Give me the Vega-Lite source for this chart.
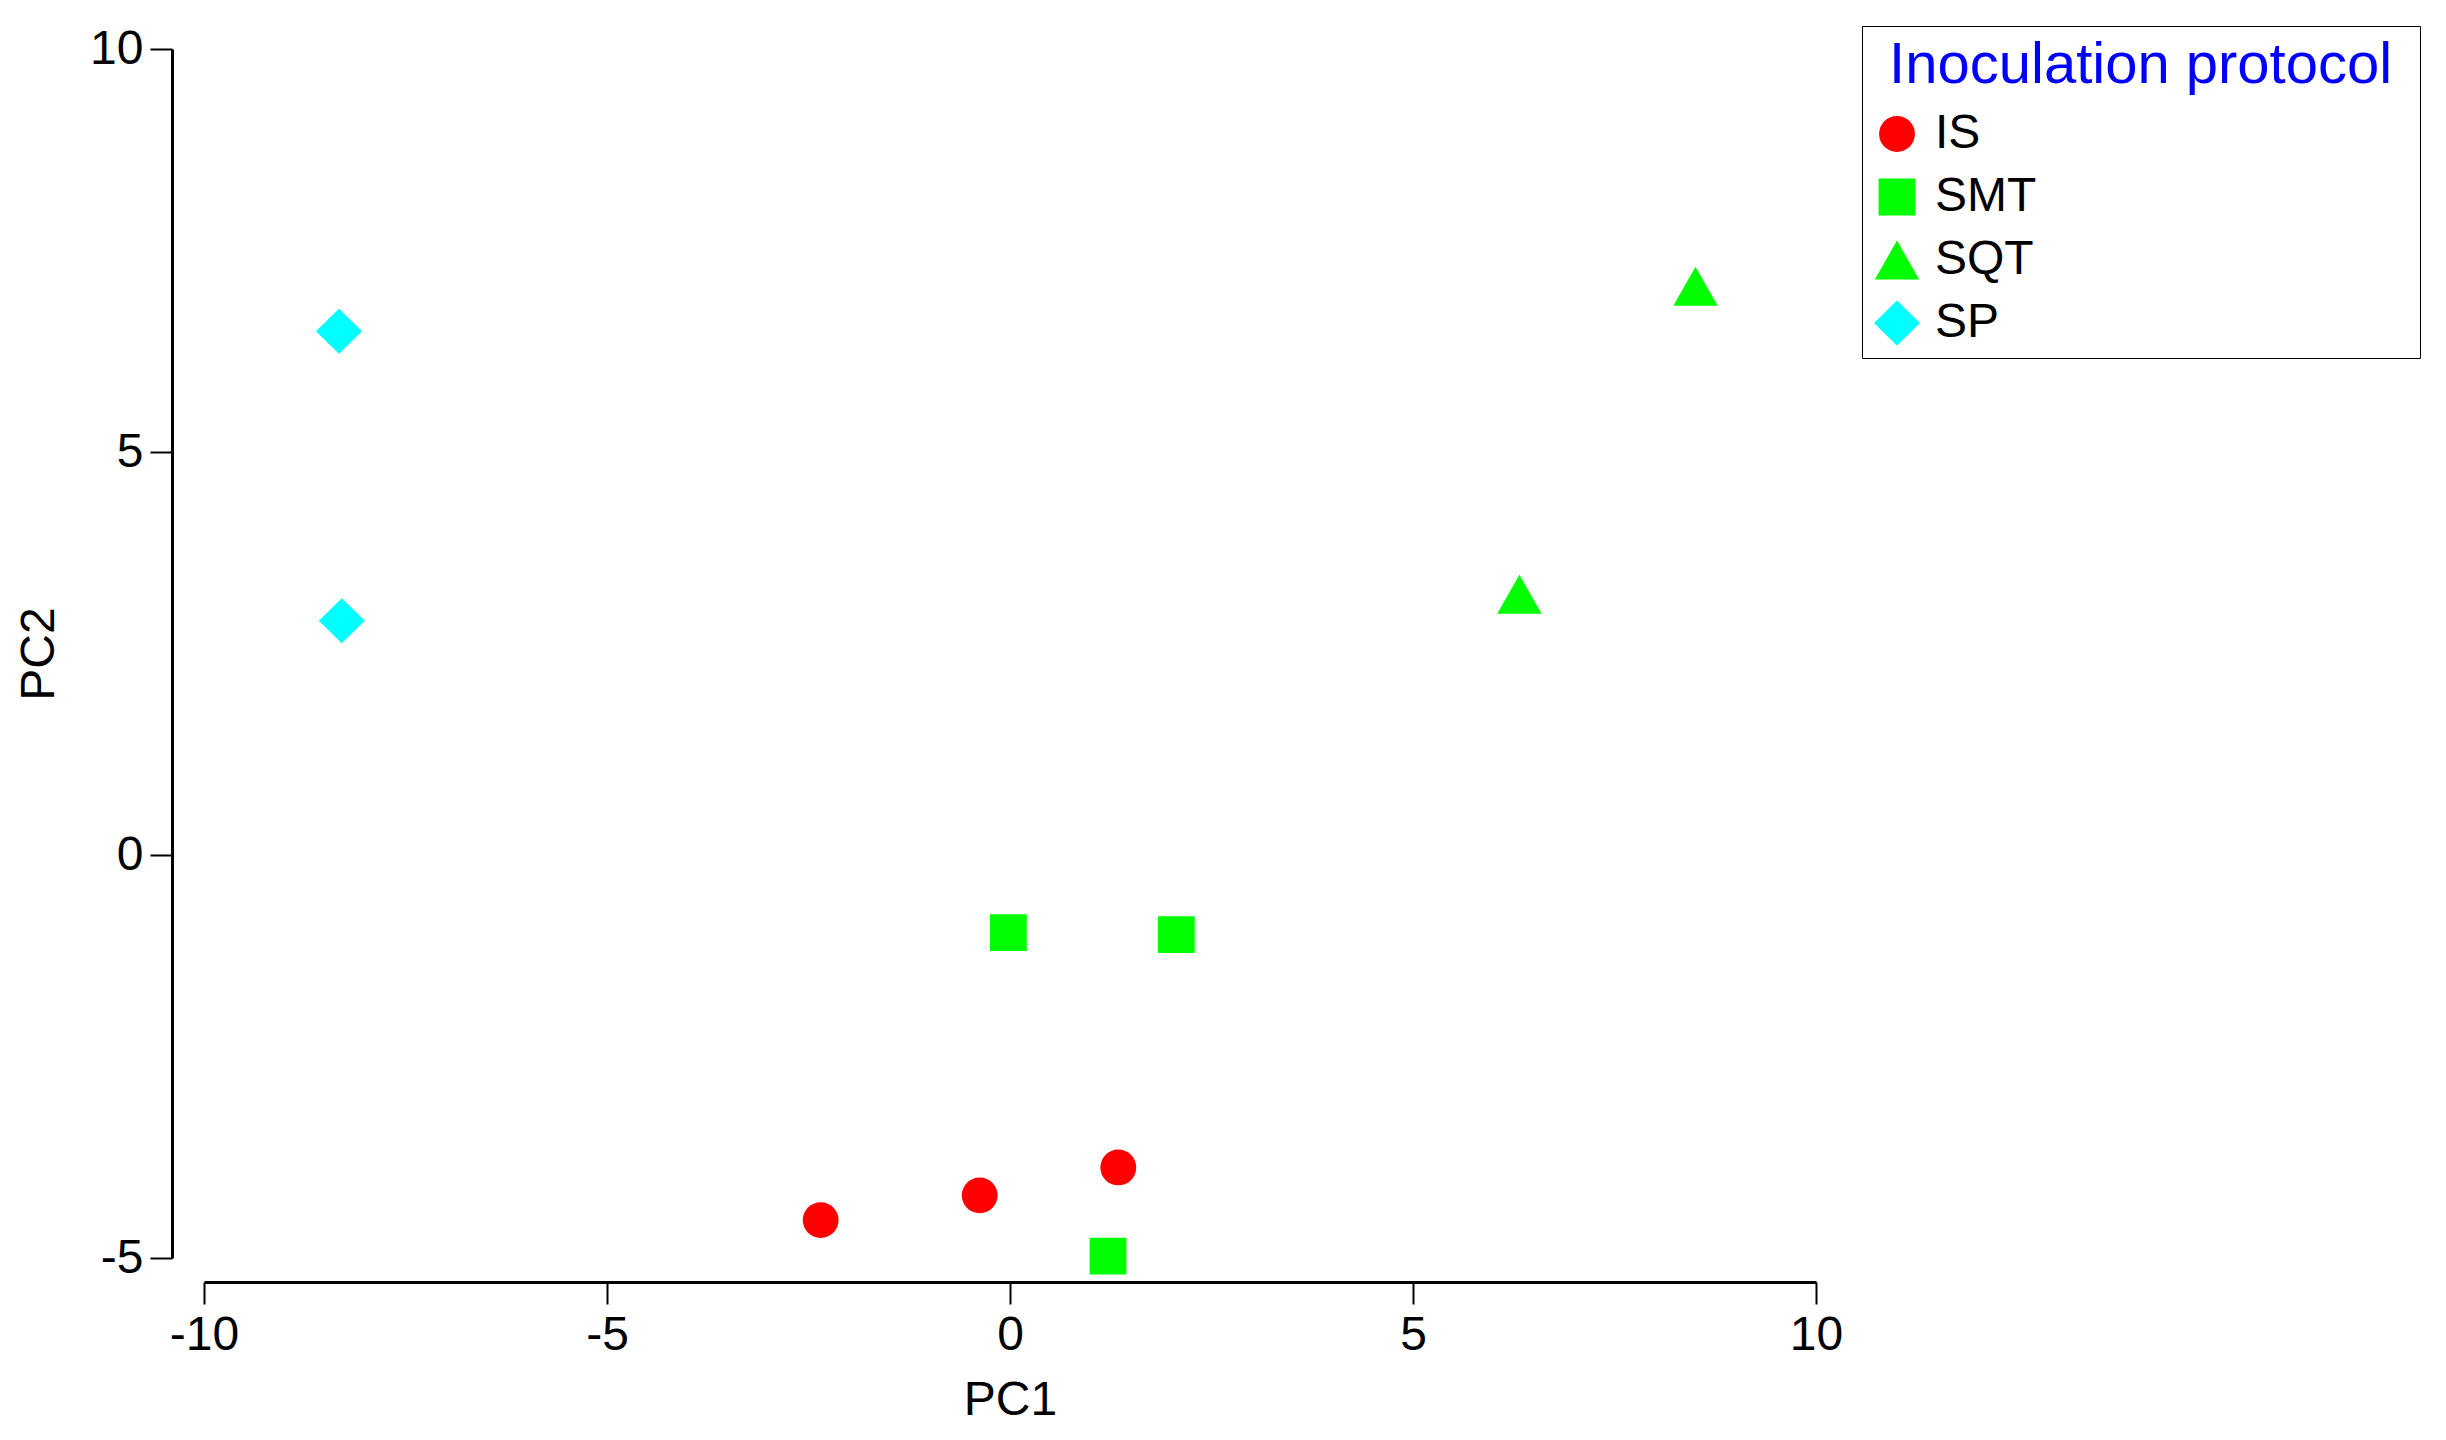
{
  "$schema": "https://vega.github.io/schema/vega-lite/v6.json",
  "width": 1612,
  "height": 1209,
  "autosize": {"type": "none"},
  "padding": {"left": 204, "top": 49, "right": 630, "bottom": 182},
  "background": "white",
  "data": {
    "values": [
      {"PC1": -2.349, "PC2": -4.53, "protocol": "IS"},
      {"PC1": -0.376, "PC2": -4.223, "protocol": "IS"},
      {"PC1": 1.344, "PC2": -3.876, "protocol": "IS"},
      {"PC1": -0.02, "PC2": -0.964, "protocol": "SMT"},
      {"PC1": 2.063, "PC2": -0.989, "protocol": "SMT"},
      {"PC1": 1.216, "PC2": -4.976, "protocol": "SMT"},
      {"PC1": 8.505, "PC2": 7.057, "protocol": "SQT"},
      {"PC1": 6.32, "PC2": 3.236, "protocol": "SQT"},
      {"PC1": -8.325, "PC2": 6.499, "protocol": "SP"},
      {"PC1": -8.29, "PC2": 2.907, "protocol": "SP"}
    ]
  },
  "mark": {"type": "point", "filled": true, "opacity": 1, "size": 2116, "strokeWidth": 0},
  "encoding": {
    "x": {
      "field": "PC1", "type": "quantitative", "title": "PC1",
      "scale": {"domain": [-10, 10], "nice": false, "zero": false},
      "axis": {"values": [-10, -5, 0, 5, 10], "labelExpr": "toString(datum.value)", "labelFlush": false, "offset": 24, "tickSize": 22, "labelPadding": 7, "titlePadding": 17, "grid": false}
    },
    "y": {
      "field": "PC2", "type": "quantitative", "title": "PC2",
      "scale": {"domain": [-5, 10], "nice": false, "zero": false},
      "axis": {"values": [-5, 0, 5, 10], "labelExpr": "toString(datum.value)", "labelFlush": false, "offset": 32, "tickSize": 22, "labelPadding": 7, "titlePadding": 26, "grid": false}
    },
    "color": {
      "field": "protocol", "type": "nominal", "title": "\u200b Inoculation protocol \u200b",
      "scale": {"domain": ["IS", "SMT", "SQT", "SP"], "range": ["#FF0000", "#00FF00", "#00FF00", "#00FFFF"]}
    },
    "shape": {
      "field": "protocol", "type": "nominal", "title": "\u200b Inoculation protocol \u200b",
      "scale": {"domain": ["IS", "SMT", "SQT", "SP"], "range": [
        "M-0.78,0A0.78,0.78 0 1,0 0.78,0A0.78,0.78 0 1,0 -0.78,0Z",
        "M-0.8,-0.8L0.8,-0.8L0.8,0.8L-0.8,0.8Z",
        "M0,-0.85L0.965,0.85L-0.965,0.85Z",
        "M0,-0.98L1,0L0,0.98L-1,0Z"
      ]}
    }
  },
  "config": {
    "view": {"stroke": null},
    "font": "Liberation Sans",
    "axis": {
      "domainColor": "black", "domainWidth": 3, "tickColor": "black", "tickWidth": 2,
      "labelFont": "Liberation Sans", "labelFontSize": 48, "labelColor": "black",
      "titleFont": "Liberation Sans", "titleFontSize": 48, "titleFontWeight": "normal", "titleColor": "black"
    },
    "legend": {
      "orient": "none", "legendX": 1658, "legendY": -23,
      "padding": 11, "strokeColor": "black", "fillColor": "white",
      "titleFont": "Liberation Sans", "titleFontSize": 58, "titleFontWeight": "normal", "titleColor": "#0000FF",
      "titlePadding": 15, "titleLimit": 1000,
      "labelFont": "Liberation Sans", "labelFontSize": 48, "labelColor": "black", "labelOffset": 14,
      "symbolSize": 2116, "symbolStrokeWidth": 0, "symbolOpacity": 1, "rowPadding": 15,
      "encode": {"legend": {"update": {"strokeWidth": {"value": 3}}}}
    }
  }
}
